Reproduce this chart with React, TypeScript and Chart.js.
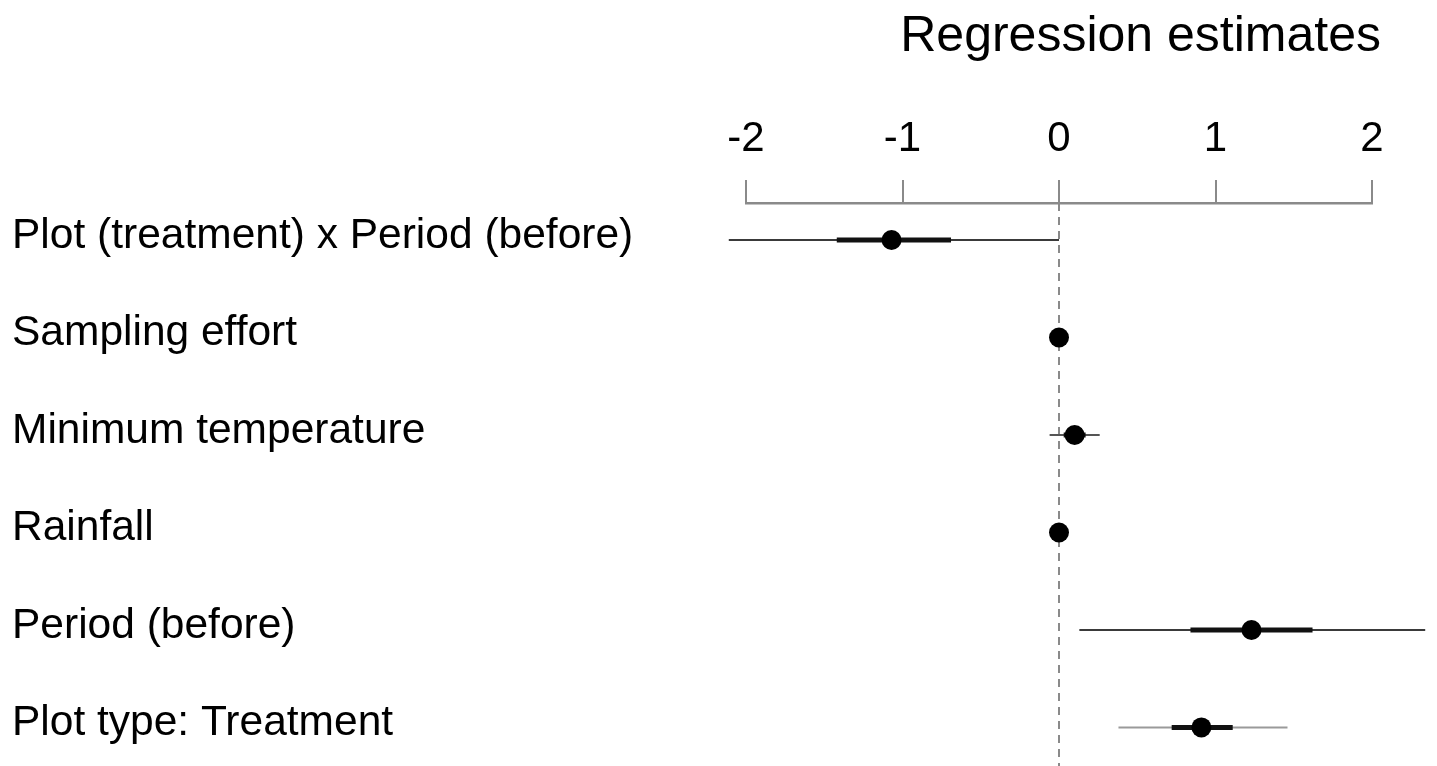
import React, { useEffect, useRef } from "react";
import { Chart, registerables } from "chart.js";

Chart.register(...registerables);

const categories = [
  "Plot (treatment) x Period (before)",
  "Sampling effort",
  "Minimum temperature",
  "Rainfall",
  "Period (before)",
  "Plot type: Treatment",
];
const estimates = [-1.07, 0.0, 0.1, 0.0, 1.23, 0.91];
const outerLow = [-2.11, -0.02, -0.06, -0.01, 0.13, 0.38];
const outerHigh = [0.0, 0.02, 0.26, 0.01, 2.34, 1.46];
const innerLow = [-1.42, -0.01, 0.03, -0.005, 0.84, 0.72];
const innerHigh = [-0.69, 0.01, 0.17, 0.005, 1.62, 1.11];
const xTicks = [-2, -1, 0, 1, 2];
const titleText = "Regression estimates";

const outerColors = ["#3a3a3a", "#3a3a3a", "#555555", "#3a3a3a", "#3a3a3a", "#9a9a9a"];
const FONT = "'Liberation Sans', Arial, Helvetica, sans-serif";
const Y_MIN = 0.62;
const Y_MAX = 6.293;

const titleShift = {
  id: "titleShift",
  afterLayout(chart: any) {
    const t = chart.titleBlock;
    if (t) {
      t.left += 9;
      t.right += 9;
    }
  },
};

export default function App() {
  const ref = useRef<HTMLCanvasElement>(null);

  useEffect(() => {
    document.body.style.margin = "0";
    document.body.style.overflow = "hidden";
    const canvas = ref.current;
    if (!canvas) return;

    const datasets: any[] = [];
    datasets.push({
      label: "estimates",
      data: estimates.map((v, i) => ({ x: v, y: i + 1 })),
      showLine: false,
      pointRadius: 10,
      pointHoverRadius: 10,
      pointBackgroundColor: "#000",
      pointBorderWidth: 0,
      clip: false,
      order: 0,
    });
    categories.forEach((_, i) => {
      datasets.push({
        label: "inner" + i,
        data: [
          { x: innerLow[i], y: i + 1 },
          { x: innerHigh[i], y: i + 1 },
        ],
        showLine: true,
        borderColor: "#111",
        borderWidth: 5,
        pointRadius: 0,
        clip: false,
        order: 1,
      });
      datasets.push({
        label: "outer" + i,
        data: [
          { x: outerLow[i], y: i + 1 },
          { x: outerHigh[i], y: i + 1 },
        ],
        showLine: true,
        borderColor: outerColors[i],
        borderWidth: 2,
        pointRadius: 0,
        clip: false,
        order: 2,
      });
    });
    datasets.push({
      label: "zero",
      data: [
        { x: 0, y: Y_MIN },
        { x: 0, y: Y_MAX + 0.2 },
      ],
      showLine: true,
      borderColor: "#8a8a8a",
      borderWidth: 2,
      borderDash: [8, 6],
      pointRadius: 0,
      clip: false,
      order: 3,
    });

    const chart = new Chart(canvas, {
      type: "scatter",
      data: { datasets },
      plugins: [titleShift],
      options: {
        animation: false,
        responsive: false,
        devicePixelRatio: 1,
        layout: { padding: { left: 12, right: 65, top: 0, bottom: 0 } },
        plugins: {
          legend: { display: false },
          tooltip: { enabled: false },
          title: {
            display: true,
            text: titleText,
            align: "end",
            color: "#000",
            font: { family: FONT, size: 50, weight: "normal", lineHeight: 1.2 },
            padding: { top: 7, bottom: 0 },
          },
        },
        scales: {
          x: {
            type: "linear",
            position: "top",
            min: -2,
            max: 2,
            afterBuildTicks: (axis: any) => {
              axis.ticks = xTicks.map((v) => ({ value: v }));
            },
            afterFit: (axis: any) => {
              axis.height = 136;
              axis.paddingLeft = 0;
              axis.paddingRight = 0;
            },
            ticks: {
              color: "#000",
              font: { family: FONT, size: 42 },
              padding: 15,
              callback: (v: any) => String(v),
            },
            grid: {
              drawOnChartArea: false,
              drawTicks: true,
              tickLength: 23,
              color: "#8a8a8a",
              lineWidth: 2,
            },
            border: { display: true, color: "#8a8a8a", width: 2.5 },
          },
          y: {
            type: "linear",
            position: "left",
            reverse: true,
            min: Y_MIN,
            max: Y_MAX,
            afterBuildTicks: (axis: any) => {
              axis.ticks = categories.map((_, i) => ({ value: i + 1 }));
            },
            afterFit: (axis: any) => {
              axis.width = 734;
              axis.paddingTop = 0;
              axis.paddingBottom = 0;
            },
            ticks: {
              color: "#000",
              crossAlign: "far",
              labelOffset: -4,
              font: { family: FONT, size: 42.5 },
              callback: (v: any) => categories[Math.round(v) - 1] ?? "",
            },
            grid: { display: false },
            border: { display: false },
          },
        },
      } as any,
    });

    return () => chart.destroy();
  }, []);

  return (
    <div style={{ position: "fixed", left: 0, top: 0, width: 1437, height: 766, background: "#fff" }}>
      <canvas ref={ref} width={1437} height={766} />
    </div>
  );
}
